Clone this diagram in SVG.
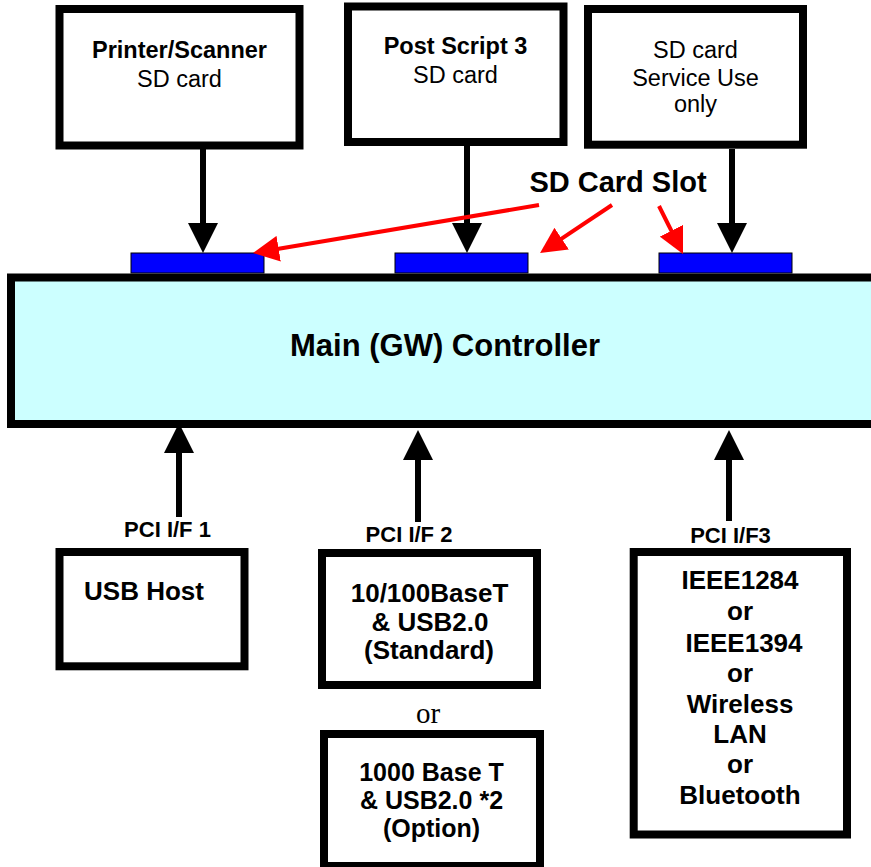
<svg xmlns="http://www.w3.org/2000/svg" width="871" height="867" viewBox="0 0 871 867">
<style>
.box{fill:#fff;stroke:#000;stroke-width:8}
.ctrl{fill:#CCFFFF;stroke:#000;stroke-width:8}
.slot{fill:#0000FF;stroke:#000;stroke-width:1}
.t{font-family:"Liberation Sans",Arial,sans-serif;fill:#000;text-anchor:middle}
.b{font-weight:bold}
.top{font-size:23.5px}
.bot{font-size:26px;font-weight:bold}
.opt{font-size:25px;font-weight:bold}
.pci{font-size:22px;font-weight:bold}
.blk{stroke:#000;stroke-width:6;fill:none}
.red{stroke:#FF0000;stroke-width:4;fill:none}
</style>
<defs>
<marker id="ah" viewBox="0 0 30 30" markerWidth="30" markerHeight="30" refX="22" refY="15" orient="auto" markerUnits="userSpaceOnUse"><path d="M0,0 L30,15 L0,30 z" fill="#000"/></marker>
<marker id="rh" viewBox="0 0 26 26" markerWidth="26" markerHeight="26" refX="18" refY="13" orient="auto" markerUnits="userSpaceOnUse"><path d="M0,0 L26,13 L0,26 z" fill="#FF0000"/></marker>
</defs>

<g id="controller">
<rect class="ctrl" x="11" y="277.5" width="880" height="146.5"/>
<text class="t b" x="445" y="356" font-size="31">Main (GW) Controller</text>
</g>

<g id="slots">
<rect class="slot" x="131" y="253" width="133" height="20"/>
<rect class="slot" x="395" y="253" width="133" height="20"/>
<rect class="slot" x="659" y="253" width="133" height="20"/>
</g>

<g id="printer-scanner">
<rect class="box" x="59.5" y="9" width="240" height="136.5"/>
<text class="t top b" x="179.5" y="58">Printer/Scanner</text>
<text class="t top" x="179.5" y="86.5">SD card</text>
</g>

<g id="postscript">
<rect class="box" x="348" y="6.5" width="215.5" height="135.5"/>
<text class="t top b" x="455.5" y="54">Post Script 3</text>
<text class="t top" x="455.5" y="82.5">SD card</text>
</g>

<g id="service-sd">
<rect class="box" x="588" y="9" width="215" height="135.7"/>
<text class="t top" x="695.5" y="57.5">SD card</text>
<text class="t top" x="695.5" y="85.5">Service Use</text>
<text class="t top" x="695.5" y="112">only</text>
</g>

<g id="sd-slot-label">
<text class="t b" x="618" y="192" font-size="29">SD Card Slot</text>
</g>

<g id="usb-host">
<rect class="box" x="59.5" y="552" width="185" height="114.3"/>
<text class="t bot" x="144" y="600">USB Host</text>
</g>

<g id="lan-standard">
<rect class="box" x="322" y="553" width="215" height="132"/>
<text class="t bot" x="429.5" y="602">10/100BaseT</text>
<text class="t bot" x="430" y="631">&amp; USB2.0</text>
<text class="t bot" x="429" y="659">(Standard)</text>
</g>

<g id="or-label">
<text x="428" y="723" font-family="'Liberation Serif','Times New Roman',serif" font-size="29" text-anchor="middle">or</text>
</g>

<g id="lan-option">
<rect class="box" x="324" y="734" width="216" height="132"/>
<text class="t opt" x="431.5" y="781">1000 Base T</text>
<text class="t opt" x="431.5" y="809">&amp; USB2.0 *2</text>
<text class="t opt" x="431.5" y="837">(Option)</text>
</g>

<g id="ieee">
<rect class="box" x="633.7" y="552" width="213.3" height="282.5"/>
<text class="t bot" x="740" y="589.3">IEEE1284</text>
<text class="t bot" x="740" y="620">or</text>
<text class="t bot" x="744" y="651.7">IEEE1394</text>
<text class="t bot" x="740" y="681.7">or</text>
<text class="t bot" x="740" y="712.7">Wireless</text>
<text class="t bot" x="740" y="743.3">LAN</text>
<text class="t bot" x="740" y="773.3">or</text>
<text class="t bot" x="740" y="804">Bluetooth</text>
</g>

<g id="pci-labels">
<text class="t pci" x="167.5" y="536.7">PCI I/F 1</text>
<text class="t pci" x="409" y="541.7">PCI I/F 2</text>
<text class="t pci" x="730.5" y="542.7">PCI I/F3</text>
</g>

<g id="connectors">
<line class="blk" x1="203" y1="149" x2="203" y2="245" marker-end="url(#ah)"/>
<line class="blk" x1="467" y1="146" x2="467" y2="245" marker-end="url(#ah)"/>
<line class="blk" x1="732" y1="149" x2="732" y2="245" marker-end="url(#ah)"/>
<line class="blk" x1="179" y1="517" x2="179" y2="431" marker-end="url(#ah)"/>
<line class="blk" x1="418" y1="522" x2="418" y2="438" marker-end="url(#ah)"/>
<line class="blk" x1="729" y1="521" x2="729" y2="438" marker-end="url(#ah)"/>
<line class="red" x1="539" y1="205" x2="260.9" y2="251.7" marker-end="url(#rh)"/>
<line class="red" x1="612" y1="205" x2="546.7" y2="248.6" marker-end="url(#rh)"/>
<line class="red" x1="659" y1="206" x2="679.4" y2="246.8" marker-end="url(#rh)"/>
</g>
</svg>
